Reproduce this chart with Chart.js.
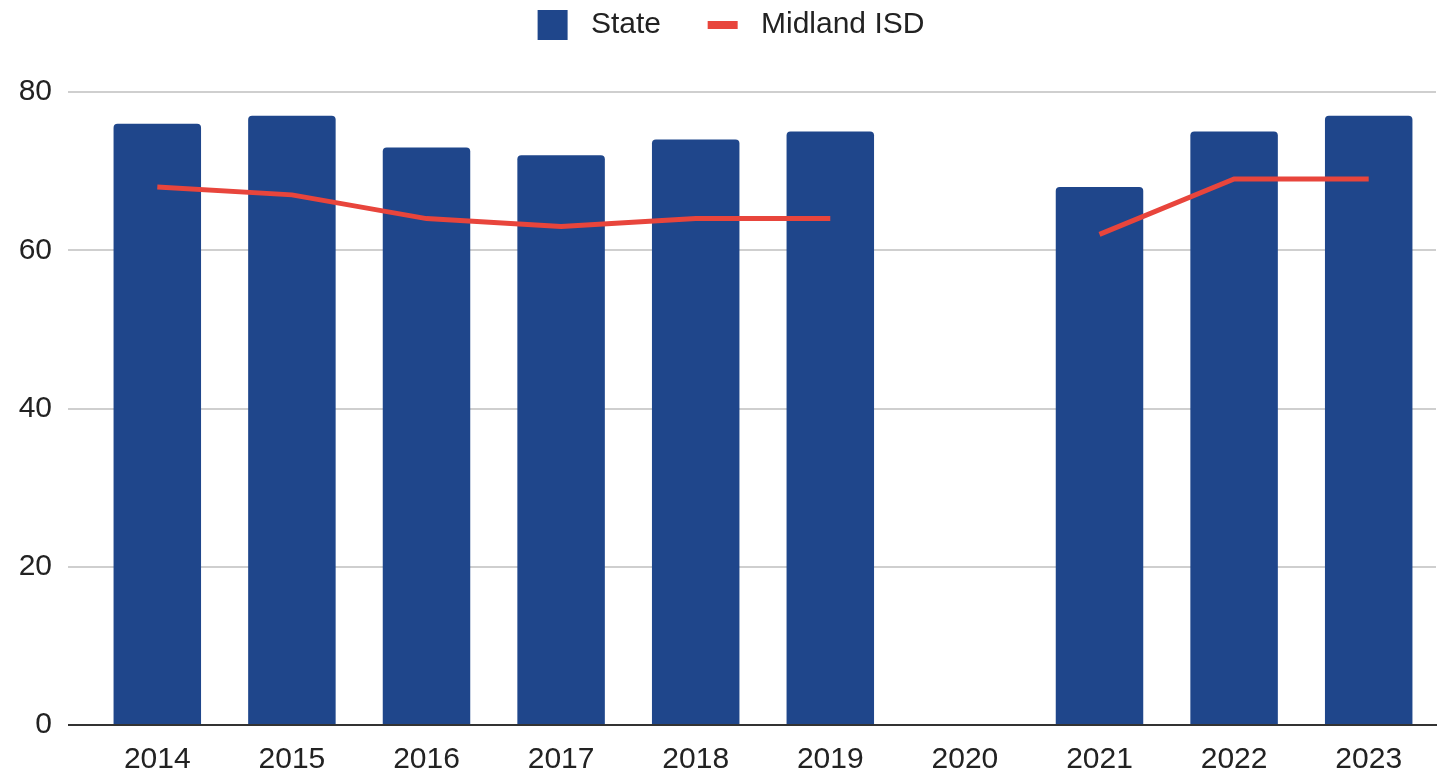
<!DOCTYPE html>
<html>
<head>
<meta charset="utf-8">
<script src="https://cdn.jsdelivr.net/npm/chart.js@4.4.1/dist/chart.umd.min.js"></script>
<style>
  html,body{margin:0;padding:0;background:#fff}
  #c{display:block}
</style>
</head>
<body>
<canvas id="c" width="1445" height="775"></canvas>
<script>
const years=['2014','2015','2016','2017','2018','2019','2020','2021','2022','2023'];
const stateVals=[76,77,73,72,74,75,null,68,75,77];
const midlandVals=[68,67,64,63,64,64,null,62,69,69];
const yMin=0, yMax=80, yStep=20;

const BLUE='#1f468b', RED='#e8453c', GRID='#cfcfcf', AXIS='#333333', TXT='#222222';
const FONT={family:"'Liberation Sans', Arial, sans-serif",size:30};

// legend: fixed height so the plot starts where the reference does, nudged right a bit
const legendFit={
  id:'legendFit',
  beforeLayout(chart){
    const lg=chart.legend;
    if(!lg||lg._fixed)return;
    const fit=lg.fit.bind(lg), draw=lg.draw.bind(lg);
    lg.fit=function(){fit();this.height=87;};
    lg.draw=function(){const ctx=this.ctx;ctx.save();ctx.translate(13,0);draw();ctx.restore();};
    lg._fixed=true;
  }
};

new Chart(document.getElementById('c'),{
  data:{
    labels:years,
    datasets:[
      {type:'bar',label:'State',data:stateVals,backgroundColor:BLUE,borderRadius:4,
       barPercentage:0.65,categoryPercentage:1,order:1},
      {type:'line',label:'Midland ISD',data:midlandVals,borderColor:RED,borderWidth:5,
       pointRadius:0,tension:0,spanGaps:false,fill:false,order:0}
    ]
  },
  options:{
    responsive:false,animation:false,
    layout:{padding:{left:0,right:9,top:5,bottom:0}},
    plugins:{
      tooltip:{enabled:false},
      legend:{
        position:'top',align:'center',
        labels:{
          font:FONT,color:TXT,padding:5,usePointStyle:true,pointStyleWidth:30,boxHeight:30,
          generateLabels(chart){
            return chart.data.datasets.map((ds,i)=>ds.type==='line'
              ?{text:' '+ds.label,strokeStyle:RED,fillStyle:RED,lineWidth:8,pointStyle:'line',datasetIndex:i,hidden:false,fontColor:TXT}
              :{text:' '+ds.label+'     ',strokeStyle:BLUE,fillStyle:BLUE,lineWidth:0,pointStyle:'rect',datasetIndex:i,hidden:false,fontColor:TXT});
          }
        }
      }
    },
    scales:{
      x:{
        grid:{display:false,drawTicks:false},
        border:{display:true,color:AXIS,width:2},
        ticks:{font:FONT,color:TXT,padding:17,maxRotation:0,autoSkip:false},
        afterFit(s){s.height=50;}
      },
      y:{
        min:yMin,max:yMax,
        border:{display:false},
        grid:{
          color:c=>c.tick&&c.tick.value===0?AXIS:GRID,
          tickColor:c=>c.tick&&c.tick.value===0?AXIS:GRID,
          lineWidth:2,drawTicks:true,tickLength:22
        },
        ticks:{stepSize:yStep,font:FONT,color:TXT,padding:16},
        afterFit(s){s.width=90;}
      }
    }
  },
  plugins:[legendFit]
});
</script>
</body>
</html>
